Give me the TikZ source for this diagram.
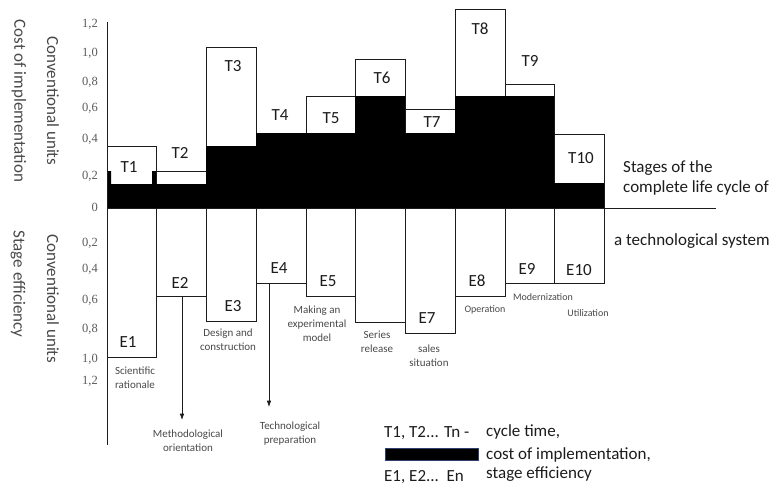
\documentclass[tikz,border=0pt]{standalone}
\usepackage{fontspec}
\setmainfont{Carlito}
\newfontfamily\numfont{Liberation Serif}
\usetikzlibrary{arrows.meta}
\definecolor{inkDark}{HTML}{1C1C1C}
\definecolor{tickGray}{HTML}{5A5A5A}
\definecolor{legendEdge}{HTML}{2F3F6F}
\colorlet{colLine}{inkDark}
\colorlet{colFill}{black}
\colorlet{colTick}{tickGray}
\colorlet{colNote}{inkDark!80}
\tikzset{
  barBase/.style={draw=colLine, line width=0.9pt, fill=white},
  costFill/.style={fill=colFill, draw=none},
  axisLine/.style={draw=colLine, line width=0.9pt},
  arrowDown/.style={-{Latex[length=2.2mm, width=1.6mm]}, line width=0.8pt, colLine},
  labelBar/.style={font=\fontsize{17}{20}\selectfont, text=colLine, inner sep=0pt},
  stageNote/.style={font=\fontsize{11}{14}\selectfont, text=colNote, align=center, inner sep=1pt},
  stageNoteSmall/.style={stageNote, font=\fontsize{10}{12}\selectfont},
  axisTitle/.style={font=\fontsize{17}{20}\selectfont, text=colNote, rotate=-90, inner sep=0pt},
  tickNum/.style={font=\numfont\fontsize{12.5}{14}\selectfont, text=colTick, anchor=base east, inner sep=0pt},
  legendText/.style={font=\fontsize{17}{20}\selectfont, text=colLine, anchor=base west, inner sep=0pt},
}
\begin{document}
\begin{tikzpicture}[x=1pt, y=-1pt]
  \useasboundingbox (0,0) rectangle (777,485);
  % upper bars: cycle time
  \foreach \xa/\xb/\ytop in {107/156/146, 156/206/171, 206/256/47, 306/355/96,
      355/405/59, 405/455/109, 455/505/9, 505/554/84, 554/604/134}
    \draw[barBase] (\xa,\ytop) rectangle (\xb,208);
  % cost of implementation
  \fill[costFill] (107,208) -- (107,171) -- (111,171) -- (111,184) -- (152,184)
    -- (152,171) -- (156,171) -- (156,184) -- (206,184) -- (206,146) -- (256,146)
    -- (256,133) -- (355,133) -- (355,96) -- (405,96) -- (405,133) -- (455,133)
    -- (455,96) -- (554,96) -- (554,183) -- (604,183) -- (604,208) -- cycle;
  % lower bars: stage efficiency
  \foreach \xa/\xb/\ybot in {107/156/357, 156/206/296, 206/256/321, 256/306/283,
      306/355/296, 355/405/322, 405/455/333, 455/505/296, 505/554/283, 554/604/283}
    \draw[barBase] (\xa,208) rectangle (\xb,\ybot);
  % axes
  \draw[axisLine] (107,22) -- (107,445);
  \draw[axisLine] (107,208) -- (716,208);

  % scale
  \foreach \val/\y [count=\i] in {1{,}2/23, 1{,}0/52, 0{,}8/81, 0{,}6/107, 0{,}4/138,
      0{,}2/175, 0/207, 0{,}2/242, 0{,}4/268, 0{,}6/299, 0{,}8/328, 1{,}0/358, 1{,}2/380}
    \node[tickNum] (tick\i) at (98,\y+4.3) {\val};

  % axis titles
  \node[axisTitle] (costTitle) at (19,101) {Cost of implementation};
  \node[axisTitle] (unitsUp) at (53,101) {Conventional units};
  \node[axisTitle] (effTitle) at (18,284) {Stage efficiency};
  \node[axisTitle] (unitsDown) at (53,299) {Conventional units};

  % bar labels
  \foreach \lab/\x/\y in {T1/129/167, T2/180/153, T3/233/66, T4/280/115, T5/331/118,
      T6/382/78, T7/432/122, T8/480/29, T9/530/61, T10/581/158}
    \node[labelBar] (lab\lab) at (\x,\y) {\lab};
  \foreach \lab/\x/\y in {E1/128/342, E2/180/283, E3/233/306, E4/279/268, E5/328/281,
      E7/427/318, E8/477/281, E9/527/269, E10/579/270}
    \node[labelBar] (lab\lab) at (\x,\y) {\lab};

  % stage names
  \node[stageNote] (sciRat) at (135,378) {Scientific\\rationale};
  \node[stageNote] (design) at (228,340) {Design and\\construction};
  \node[stageNote] (methOr) at (188,441) {Methodological\\orientation};
  \node[stageNote] (techPrep) at (290,434) {Technological\\preparation};
  \node[stageNote] (expModel) at (317,324) {Making an\\experimental\\model};
  \node[stageNote] (series) at (377,342) {Series\\release};
  \node[stageNote] (sales) at (429,356) {sales\\situation};
  \node[stageNoteSmall] (operation) at (485,310) {Operation};
  \node[stageNoteSmall] (modern) at (543,297) {Modernization};
  \node[stageNoteSmall] (utiliz) at (588,313) {Utilization};

  % arrows to the preparation stages
  \coordinate (footE2) at (182,296);
  \coordinate (tipE2) at (182,420);
  \coordinate (footE4) at (269,283);
  \coordinate (tipE4) at (269,407);
  \draw[arrowDown] (footE2) -- (tipE2);
  \draw[arrowDown] (footE4) -- (tipE4);

  % life cycle caption
  \node[legendText] (stagesA) at (623,172) {Stages of the};
  \node[legendText] (stagesB) at (623,192) {complete life cycle of};
  \node[legendText] (stagesC) at (614,245) {a technological system};

  % legend
  \node[legendText] (legT) at (384,437) {T1, T2... Tn -};
  \node[draw=legendEdge, fill=black, line width=0.6pt, inner sep=0pt, anchor=north west,
    minimum width=93pt, minimum height=12pt] (legBox) at (385,448) {};
  \node[legendText] (legE) at (384,481) {E1, E2...\ \ En};
  \node[legendText] (legCycle) at (486,436) {cycle time,};
  \node[legendText] (legCost) at (486,459) {cost of implementation,};
  \node[legendText] (legEff) at (486,478) {stage efficiency};
\end{tikzpicture}
\end{document}
